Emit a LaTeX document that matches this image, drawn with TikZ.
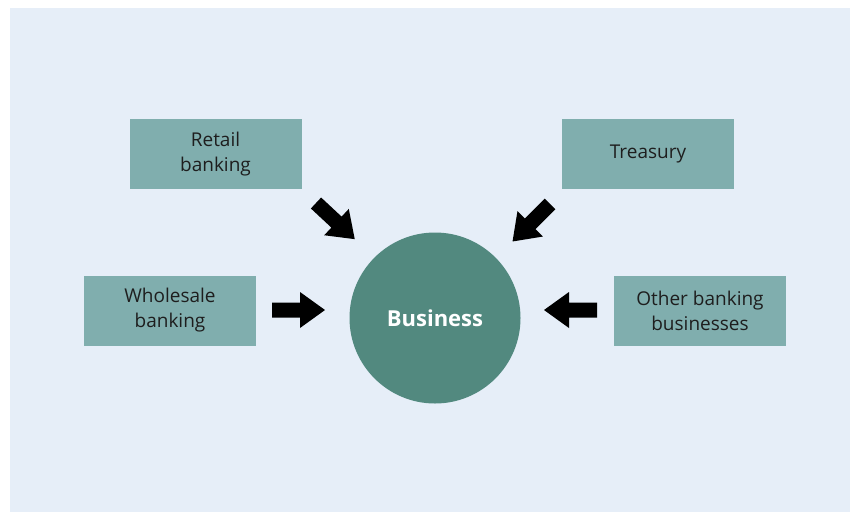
\documentclass[tikz,border=0pt]{standalone}
\usepackage{fontspec}
\setmainfont{Open Sans}
\usetikzlibrary{positioning}

\definecolor{bizback}{RGB}{230,238,248}
\definecolor{bizbox}{RGB}{128,174,174}
\definecolor{bizcore}{RGB}{82,137,127}
\definecolor{biztext}{RGB}{30,30,30}

\tikzset{
    unitbox/.style={fill=bizbox, minimum width=172pt, minimum height=70pt, inner sep=0pt,
        align=center, text=biztext, font=\fontsize{19}{25}\selectfont},
    fatarrow/.pic={
        \fill[black] (0,-7.5) -- (28,-7.5) -- (28,-18) -- (53,0) -- (28,18) -- (28,7.5) -- (0,7.5) -- cycle;
    }
}

\begin{document}
\begin{tikzpicture}[x=1pt, y=-1pt]
        \useasboundingbox (0,0) rectangle (850,517);
        \fill[bizback] (10,8) rectangle (850,512);

        % Centre circle
        \node[circle, fill=bizcore, minimum size=171pt, inner sep=0pt, text=white,
              font=\fontsize{22}{26}\selectfont\bfseries] (business) at (435,318) {Business};

        % Four business lines
        \node[unitbox] (retail) at (215.5,154) {Retail\\banking};
        \node[unitbox] (treasury) at (648,154) {Treasury};
        \node[unitbox] (wholesale) at (170,310.5) {Wholesale\\banking};
        \node[unitbox] (other) at (700,310.5) {Other banking\\businesses};

        % Block arrows pointing in
        \pic[rotate=-43] (retailarrow) at (316,203) {fatarrow};
        \pic[rotate=-135] (treasuryarrow) at (550,204) {fatarrow};
        \pic (wholesalearrow) at (272,310) {fatarrow};
        \pic[rotate=180] (otherarrow) at (597,310) {fatarrow};
    \end{tikzpicture}
\end{document}
